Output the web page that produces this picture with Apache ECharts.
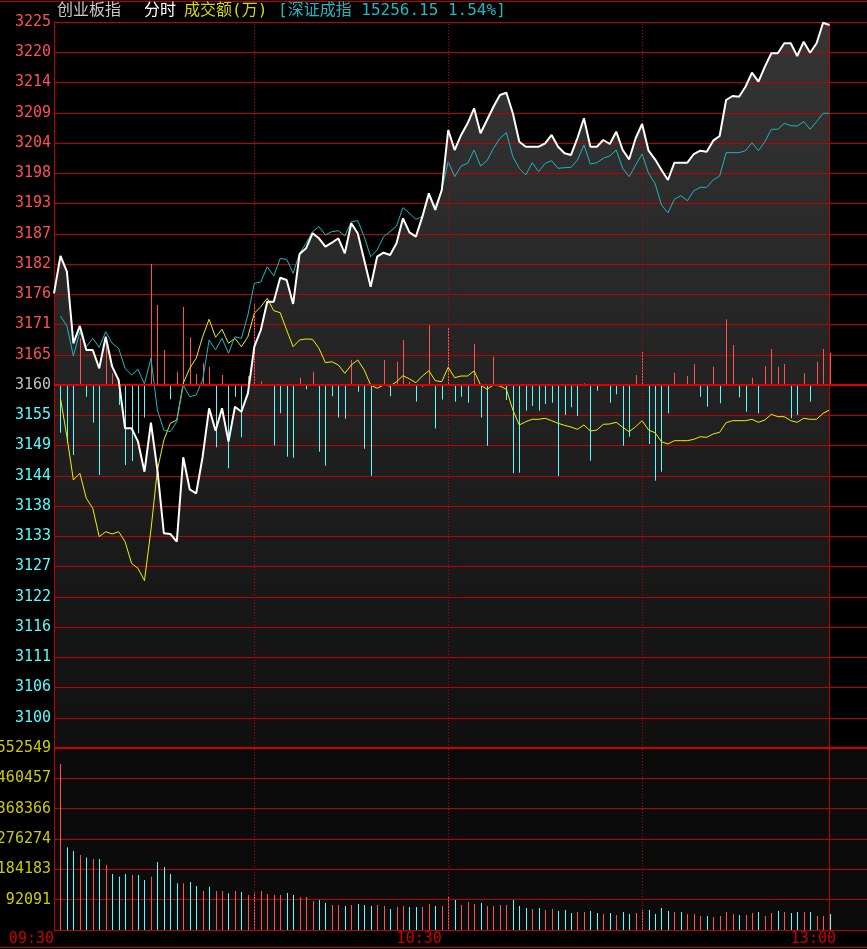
<!DOCTYPE html>
<html><head><meta charset="utf-8">
<script src="https://cdn.jsdelivr.net/npm/echarts@6/dist/echarts.min.js"></script>
<style>html,body{margin:0;padding:0;background:#000;}#c{width:867px;height:949px;}</style>
</head><body><div id="c"></div>
<script>
// ---------- data ----------
const prevClose = 3160;
const priceMin = 3095, priceMax = 3225;
const volMax = 552549;
const priceTicks = ['', '3100','3106','3111','3116','3122','3127','3133','3138','3144','3149','3155','3160','3165','3171','3176','3182','3187','3193','3198','3204','3209','3214','3220','3225'];
const volTicks = ['', '92091','184183','276274','368366','460457','552549'];
const timeLabels = ['09:30','10:30','13:00'];
const timeLabelAt = [0, 60, 121];
const halfHourMarks = [31, 61, 91];
const sessionEnd = 120;

// 创业板指 (white)
const indexPrice = [
3176.42,3183.10,3180.29,3167.47,3170.57,3166.27,3166.27,3162.99,3168.65,3163.28,
3160.90,3152.25,3152.25,3149.85,3144.48,3153.25,3144.78,3133.45,3133.32,3131.94,
3147.05,3141.32,3140.61,3147.16,3155.83,3151.82,3155.83,3149.85,3156.11,3155.22,
3158.51,3166.86,3169.85,3174.92,3174.92,3179.21,3178.80,3174.51,3183.46,3184.48,
3187.16,3186.27,3184.77,3185.48,3186.27,3183.58,3188.96,3187.16,3182.38,3177.60,
3182.97,3183.69,3183.28,3185.37,3189.85,3187.34,3186.56,3190.14,3194.33,3191.34,
3194.92,3205.66,3202.08,3204.77,3206.86,3209.55,3205.07,3207.45,3209.83,3211.93,
3212.34,3208.65,3203.57,3202.67,3202.67,3202.67,3203.28,3204.77,3202.67,3201.49,
3201.19,3204.23,3207.76,3202.67,3202.67,3203.87,3203.15,3205.36,3202.08,3200.41,
3204.18,3206.74,3201.96,3200.41,3198.50,3196.71,3199.81,3199.81,3199.81,3201.36,
3201.96,3201.78,3203.75,3204.59,3211.03,3211.75,3211.62,3213.41,3215.92,3214.31,
3217.00,3219.40,3219.40,3221.19,3221.19,3218.91,3221.47,3219.50,3221.19,3224.87,
3224.46];

// 深证成指 overlay (cyan)
const szIndex = [null,
3172.36,3170.57,3165.19,3169.54,3166.86,3168.36,3166.75,3169.54,3167.47,
3166.57,3162.99,3161.79,3162.81,3160.18,3164.78,3155.52,3151.94,3151.64,3153.43,
3160.00,3157.91,3158.21,3160.90,3168.06,3166.27,3168.36,3165.68,3168.65,3168.36,
3172.53,3178.21,3178.44,3181.18,3179.52,3182.65,3182.51,3180.00,3183.58,3185.37,
3187.45,3188.35,3186.86,3187.45,3187.63,3186.68,3189.24,3189.42,3186.56,3182.97,
3184.17,3186.56,3187.45,3188.47,3191.75,3190.75,3189.67,3190.14,3193.72,3191.93,
3194.92,3199.99,3197.30,3199.22,3199.70,3202.08,3199.22,3200.16,3202.38,3204.18,
3205.18,3200.88,3198.80,3197.60,3199.81,3198.19,3199.70,3200.16,3198.80,3198.91,
3198.98,3200.29,3202.98,3199.57,3199.81,3200.59,3201.01,3202.08,3198.80,3197.30,
3199.39,3201.36,3197.91,3196.12,3192.23,3190.85,3193.25,3193.90,3193.00,3194.79,
3195.40,3195.40,3196.71,3197.42,3201.60,3201.60,3201.60,3201.96,3203.39,3201.96,
3203.57,3205.79,3205.79,3206.86,3206.43,3206.38,3207.15,3205.79,3207.15,3208.65,
3208.65];

// yellow line
const leadLine = [null,
3157.62,3150.74,3142.99,3144.19,3139.71,3137.92,3132.84,3133.73,3133.32,
3133.73,3131.94,3128.07,3127.18,3124.96,3134.04,3144.78,3150.15,3153.14,3153.73,
3160.31,3162.99,3164.78,3168.65,3171.77,3168.54,3169.97,3167.47,3168.36,3166.86,
3168.65,3172.84,3174.02,3175.53,3173.31,3172.95,3169.85,3166.86,3168.06,3168.24,
3168.18,3166.57,3163.99,3164.17,3163.58,3162.10,3163.58,3164.48,3162.69,3160.00,
3159.41,3160.00,3159.82,3160.59,3161.67,3161.08,3160.41,3161.61,3162.56,3160.77,
3160.59,3163.17,3161.31,3161.61,3161.61,3162.51,3160.00,3159.23,3160.00,3159.82,
3159.23,3155.52,3152.84,3153.43,3153.86,3153.86,3154.04,3153.61,3153.14,3152.78,
3152.48,3152.07,3152.84,3151.76,3151.94,3152.96,3153.02,3153.32,3152.43,3151.64,
3152.53,3153.61,3151.94,3151.46,3149.85,3149.44,3150.03,3150.03,3150.03,3150.28,
3150.74,3150.63,3151.23,3151.53,3153.25,3153.61,3153.61,3153.61,3153.86,3153.32,
3153.73,3154.75,3154.33,3154.33,3153.61,3153.32,3154.04,3153.86,3153.86,3154.93,
3155.52];

// red/cyan bars around previous close (points above/below 3160)
const flowBars = [null,
-8.54,-10.33,-12.53,8.36,-2.10,-6.75,-16.12,7.75,2.10,
-3.58,-14.32,-13.61,-8.65,-5.82,21.67,14.32,6.27,-2.56,2.38,
13.97,8.54,1.97,3.89,3.28,-11.16,1.79,-14.92,-2.10,-9.36,
1.61,14.45,0.68,0.18,-10.83,-5.07,-12.84,-13.02,1.29,-0.77,
2.36,-11.94,-14.45,-2.02,-5.82,-6.05,4.48,-1.20,-11.41,-16.26,
0,4.48,-2.02,4.17,8.06,0.59,-2.99,-0.30,10.74,-7.79,
-2.61,10.33,-2.99,-2.10,-3.17,7.34,-5.82,-10.89,5.07,0,
-2.69,-15.79,-15.70,-4.60,-3.76,-4.60,-3.40,-3.17,-16.29,-5.37,
-3.99,-5.55,0.30,-13.55,-1.02,0,-3.17,-1.67,-10.87,-9.26,
1.79,5.96,-10.56,-17.14,-15.52,-5.07,2.20,0.18,1.61,3.76,
-2.10,-3.89,3.28,-3.28,11.76,7.16,-2.20,-4.78,1.31,-5.07,
3.40,6.45,3.28,3.76,-5.96,-5.37,2.10,-2.99,4.17,6.45,
5.78];

// 成交额(万)
const volume = [null,
504000,251000,239800,227700,219600,215600,215600,197300,170000,
161900,170000,167000,167000,151800,161900,206400,191300,170000,141700,
141700,145700,133600,118400,131500,118400,118400,111400,118400,115400,
106300,114400,118400,109300,106300,106300,112300,106300,99300,100200,
88000,91100,82000,75900,75900,72900,75900,78900,75900,72900,
75900,72900,63800,69800,72900,69800,69800,69800,78900,72900,
72900,103200,91100,75900,85000,78900,82000,72900,72900,75900,
75900,91100,72900,66800,63800,66800,60700,63800,57700,60700,
51600,54600,54600,57700,51600,48600,51600,45500,54600,48600,
51600,60700,60700,48600,66800,57700,54600,54600,48600,48600,
42500,42500,39500,42500,54600,48600,45500,45500,51600,54600,
42500,51600,57700,54600,51600,54600,54600,54600,42500,42500,
48600];
// 1 = up (red), -1 = down (cyan)
const volDir = [0,
1,-1,-1,1,-1,1,-1,1,-1,
-1,-1,1,-1,-1,1,-1,-1,-1,-1,
1,-1,-1,1,-1,1,1,-1,1,-1,
1,1,1,1,1,1,-1,-1,1,1,
1,-1,-1,1,1,-1,1,-1,-1,-1,
1,1,-1,1,1,-1,-1,1,1,-1,
1,1,-1,1,1,1,-1,1,1,1,
1,-1,-1,-1,1,-1,1,1,-1,-1,
-1,1,1,-1,-1,1,-1,1,-1,-1,
1,1,-1,-1,-1,-1,1,-1,1,1,
1,-1,1,1,1,1,-1,1,1,-1,
1,1,-1,1,-1,-1,1,-1,1,1,
-1];

// ---------- styles ----------
const RED = '#ff5050', CYAN = '#50ffff', GRID = '#c00000';
const MONO = '"DejaVu Sans Mono", "Liberation Mono", monospace';
const HEAD = '16px "DejaVu Sans Mono", "Noto Sans CJK SC", sans-serif';

const chart = echarts.init(document.getElementById('c'), null, {renderer: 'canvas'});

function vLines() {
  return halfHourMarks.map(v => ({xAxis: v, lineStyle: {type: [1, 2], color: GRID, width: 1}}))
    .concat([{xAxis: sessionEnd, lineStyle: {type: 'solid', color: GRID, width: 1}}]);
}

chart.setOption({
  animation: false,
  backgroundColor: '#000',
  grid: [
    {left: 54, top: 22, width: 813, height: 726, outerBoundsMode: 'none', containLabel: false},
    {left: 54, top: 748, width: 813, height: 182, outerBoundsMode: 'none', containLabel: false,
     show: true, backgroundColor: '#0b0b0b', borderWidth: 0}
  ],
  xAxis: [
    {type: 'value', gridIndex: 0, min: 0, max: 125.8, show: false},
    {type: 'value', gridIndex: 1, min: 0, max: 125.8, z: 1,
     axisLine: {show: true, lineStyle: {color: GRID, width: 1}},
     axisTick: {show: false}, splitLine: {show: false},
     axisLabel: {customValues: timeLabelAt, formatter: v => timeLabels[timeLabelAt.indexOf(v)] || '',
                 align: 'right', color: '#cc0000', fontFamily: MONO, fontSize: 15, margin: 2}}
  ],
  yAxis: [
    {type: 'value', gridIndex: 0, position: 'left', min: priceMin, max: priceMax, show: false},
    {type: 'value', gridIndex: 0, position: 'left', offset: 0, z: 1,
     min: 0, max: priceTicks.length - 1, interval: 1,
     axisLine: {show: true, lineStyle: {color: GRID, width: 1}},
     axisTick: {show: false},
     splitLine: {show: true, lineStyle: {color: GRID, width: 1}},
     axisLabel: {formatter: v => priceTicks[Math.round(v)] || '',
                 color: v => { const k = Math.round(v); return k > 12 ? RED : (k === 12 ? '#c0c0c0' : CYAN); },
                 fontFamily: MONO, fontSize: 15, margin: 3}},
    {type: 'value', gridIndex: 1, position: 'left', z: 1,
     min: 0, max: volMax, interval: volMax / (volTicks.length - 1),
     axisLine: {show: true, lineStyle: {color: GRID, width: 1}},
     axisTick: {show: false},
     splitLine: {show: true, lineStyle: {color: GRID, width: 1}},
     axisLabel: {formatter: v => volTicks[Math.round(v / (volMax / (volTicks.length - 1)))] || '',
                 color: '#cccc00', fontFamily: MONO, fontSize: 15, margin: 3}}
  ],
  series: [
    { // area under index line (below grid lines)
      type: 'line', xAxisIndex: 0, yAxisIndex: 0, silent: true, z: 0,
      data: indexPrice.map((v, i) => [i, v]), showSymbol: false,
      lineStyle: {width: 0, opacity: 0},
      areaStyle: {origin: 'start', opacity: 1,
        color: new echarts.graphic.LinearGradient(0, 0, 0, 1, [{offset: 0, color: '#353535'}, {offset: 1, color: '#101010'}])}
    },
    { // reference lines in price panel
      type: 'line', xAxisIndex: 0, yAxisIndex: 0, silent: true, z: 2, data: [],
      markLine: {silent: true, symbol: 'none', label: {show: false},
        data: vLines().concat([{yAxis: prevClose, lineStyle: {type: 'solid', color: '#e00000', width: 2}}])}
    },
    { // flow bars
      type: 'custom', xAxisIndex: 0, yAxisIndex: 0, silent: true, z: 3,
      data: flowBars.map((d, i) => d === null ? null : [i, d]).filter(Boolean),
      renderItem: (params, api) => {
        const i = api.value(0), d = api.value(1);
        if (!d) return null;
        const a = api.coord([i, prevClose]), b = api.coord([i, prevClose + d]);
        const x = Math.round(a[0]) + 0.5;
        return {type: 'line', shape: {x1: x, y1: a[1], x2: x, y2: b[1]},
                style: {stroke: d > 0 ? RED : CYAN, lineWidth: 1}};
      }
    },
    {type: 'line', xAxisIndex: 0, yAxisIndex: 0, silent: true, z: 4, showSymbol: false,
     data: leadLine.map((v, i) => [i, v]), lineStyle: {color: '#f0f000', width: 1}},
    {type: 'line', xAxisIndex: 0, yAxisIndex: 0, silent: true, z: 4, showSymbol: false,
     data: szIndex.map((v, i) => [i, v]), lineStyle: {color: '#1cb8c0', width: 1}},
    {type: 'line', xAxisIndex: 0, yAxisIndex: 0, silent: true, z: 5, showSymbol: false,
     data: indexPrice.map((v, i) => [i, v]), lineStyle: {color: '#ffffff', width: 2}},
    { // volume bars
      type: 'custom', xAxisIndex: 1, yAxisIndex: 2, silent: true, z: 3,
      data: volume.map((v, i) => v === null ? null : [i, v, volDir[i]]).filter(Boolean),
      renderItem: (params, api) => {
        const i = api.value(0), v = api.value(1), dir = api.value(2);
        const a = api.coord([i, 0]), b = api.coord([i, v]);
        const x = Math.round(a[0]) + 0.5;
        return {type: 'line', shape: {x1: x, y1: a[1], x2: x, y2: b[1]},
                style: {stroke: dir > 0 ? RED : CYAN, lineWidth: 1}};
      }
    },
    {type: 'line', xAxisIndex: 1, yAxisIndex: 2, silent: true, z: 2, data: [],
     markLine: {silent: true, symbol: 'none', label: {show: false},
       data: vLines().concat([{yAxis: volMax, lineStyle: {type: 'solid', color: '#d00000', width: 2}}])}}
  ],
  graphic: [
    {type: 'line', shape: {x1: 0, y1: 1.5, x2: 867, y2: 1.5}, style: {stroke: GRID, lineWidth: 1}, silent: true},
    {type: 'line', shape: {x1: 0, y1: 947.5, x2: 867, y2: 947.5}, style: {stroke: GRID, lineWidth: 1}, silent: true},
    {type: 'text', left: 57, top: 3, style: {text: '创业板指', fill: '#c8c8c8', font: HEAD}},
    {type: 'text', left: 144, top: 3, style: {text: '分时', fill: '#ffffff', font: HEAD}},
    {type: 'text', left: 184, top: 3, style: {text: '成交额(万)', fill: '#d8d800', font: HEAD}},
    {type: 'text', left: 278, top: 3, style: {text: '[深证成指 15256.15 1.54%]', fill: '#20b8c0', font: HEAD}}
  ]
});
</script>
</body></html>
